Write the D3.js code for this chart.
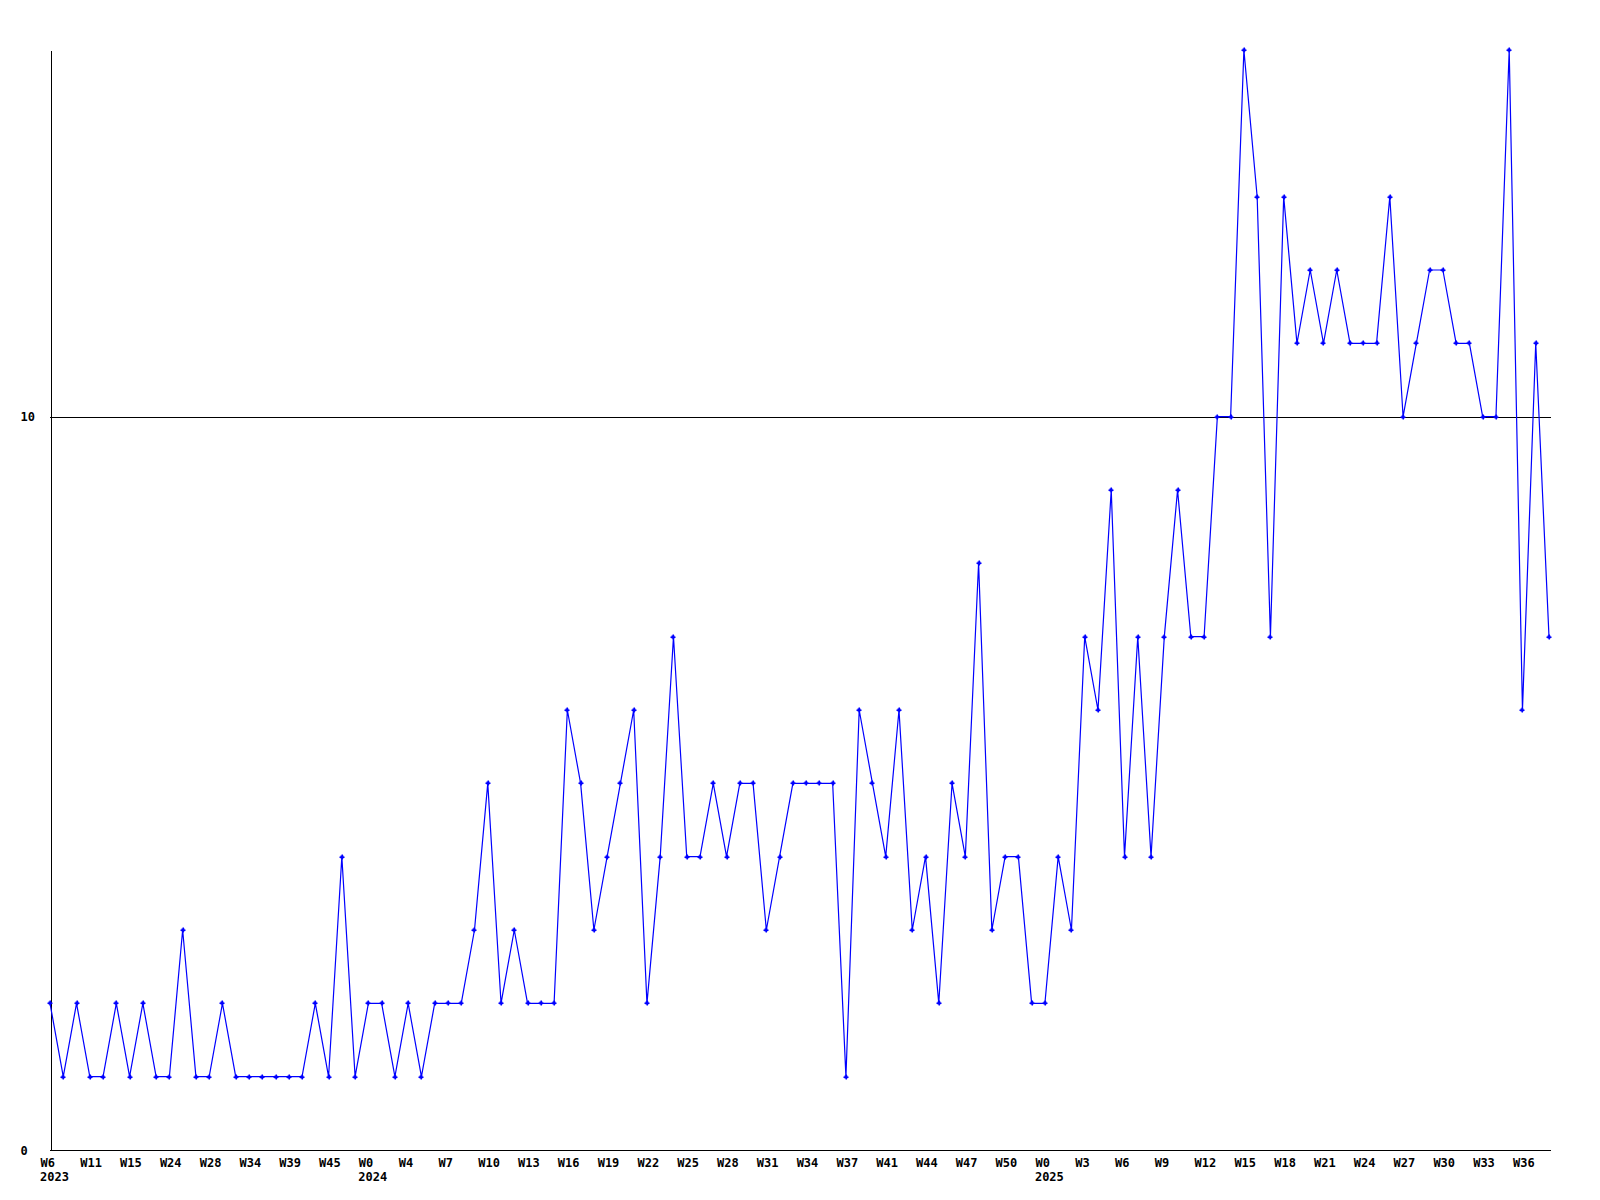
<!DOCTYPE html>
<html>
<head>
<meta charset="utf-8">
<script src="https://cdn.jsdelivr.net/npm/d3@7"></script>
<style>
  html, body { margin: 0; padding: 0; background: #ffffff; }
  svg { display: block; }
  text { font-family: "DejaVu Sans Mono", monospace; font-weight: bold; font-size: 12px; fill: #000; }
</style>
</head>
<body>
<script>
// Weekly values (one per point, 114 points)
const values = [
  2,1,2,1,1,2,1,2,1,1,3,1,1,2,1,1,1,1,1,1,2,1,4,1,
  2,2,1,2,1,2,2,2,3,5,2,3,2,2,2,6,5,3,4,5,6,2,4,7,4,4,5,4,5,5,3,4,5,5,5,5,1,6,5,4,6,3,4,2,5,4,8,3,4,4,2,
  2,4,3,7,6,9,4,7,4,7,9,7,7,10,10,15,13,7,13,11,12,11,12,11,11,11,13,10,11,12,12,11,11,10,10,15,6,11,7
];
// Tick labels, one every 3 points
const tickLabels = ["W6","W11","W15","W24","W28","W34","W39","W45",
  "W0","W4","W7","W10","W13","W16","W19","W22","W25","W28","W31","W34","W37","W41","W44","W47","W50",
  "W0","W3","W6","W9","W12","W15","W18","W21","W24","W27","W30","W33","W36"];
const tickStep = 3;
// Year labels and the point index where they start
const yearLabels = ["2023","2024","2025"];
const yearIndex = [0, 24, 75];
const yTicks = [0, 10];
const yMax = 15;

const W = 1600, H = 1200;
const svg = d3.select("body").append("svg").attr("width", W).attr("height", H);
svg.append("rect").attr("width", W).attr("height", H).attr("fill", "#fff");

const x = d3.scaleLinear().domain([0, values.length - 1]).range([50, 1549]);
const y = d3.scaleLinear().domain([0, yMax]).range([1150, 50]);

// gridline at 10
svg.append("g").selectAll("line").data(yTicks.filter(d => d > 0)).join("line")
  .attr("x1", 50).attr("x2", 1551)
  .attr("y1", d => Math.round(y(d)) + 0.5).attr("y2", d => Math.round(y(d)) + 0.5)
  .attr("stroke", "#000").attr("stroke-width", 1).attr("shape-rendering", "crispEdges");

// y axis
const yAxis = d3.axisLeft(y).tickValues(yTicks).tickSize(0).tickSizeOuter(0).tickFormat(d3.format("d"));
const gy = svg.append("g").attr("transform", "translate(50.5,0)").call(yAxis);
gy.select(".domain").attr("stroke", "#000").attr("shape-rendering", "crispEdges");
gy.selectAll("text").attr("text-anchor", "start").attr("x", -30).attr("dy", "0.35em")
  .style("font-family", "DejaVu Sans Mono").style("font-size", "12px").style("font-weight", "bold");

// x axis
const tickIdx = tickLabels.map((d, i) => i * tickStep);
const xAxis = d3.axisBottom(x).tickValues(tickIdx).tickSize(0).tickSizeOuter(0)
  .tickFormat((d, i) => tickLabels[i]);
const gx = svg.append("g").attr("transform", "translate(0,1150.5)").call(xAxis);
gx.select(".domain").attr("stroke", "#000").attr("shape-rendering", "crispEdges")
  .attr("d", "M50,0H1551");
gx.selectAll("text").attr("text-anchor", "start").attr("x", -10).attr("y", 16).attr("dy", 0)
  .style("font-family", "DejaVu Sans Mono").style("font-size", "12px").style("font-weight", "bold");

// year labels
svg.append("g").selectAll("text").data(yearLabels).join("text")
  .attr("x", (d, i) => x(yearIndex[i]) - 10).attr("y", 1181)
  .text(d => d);

// line
const line = d3.line().x((d, i) => x(i)).y(d => y(d));
svg.append("path").datum(values).attr("d", line)
  .attr("fill", "none").attr("stroke", "#0000ff").attr("stroke-width", 1.2);

// markers (small crosses)
const mk = svg.append("g").attr("fill", "#0000ff");
const pts = mk.selectAll("g").data(values).join("g")
  .attr("transform", (d, i) => `translate(${Math.round(x(i))},${Math.round(y(d))})`);
pts.append("rect").attr("x", -2.5).attr("y", -0.5).attr("width", 5).attr("height", 1.5);
pts.append("rect").attr("x", -0.5).attr("y", -2.5).attr("width", 1.5).attr("height", 5);
pts.append("rect").attr("x", -1.5).attr("y", -1.5).attr("width", 3).attr("height", 3);
</script>
</body>
</html>
